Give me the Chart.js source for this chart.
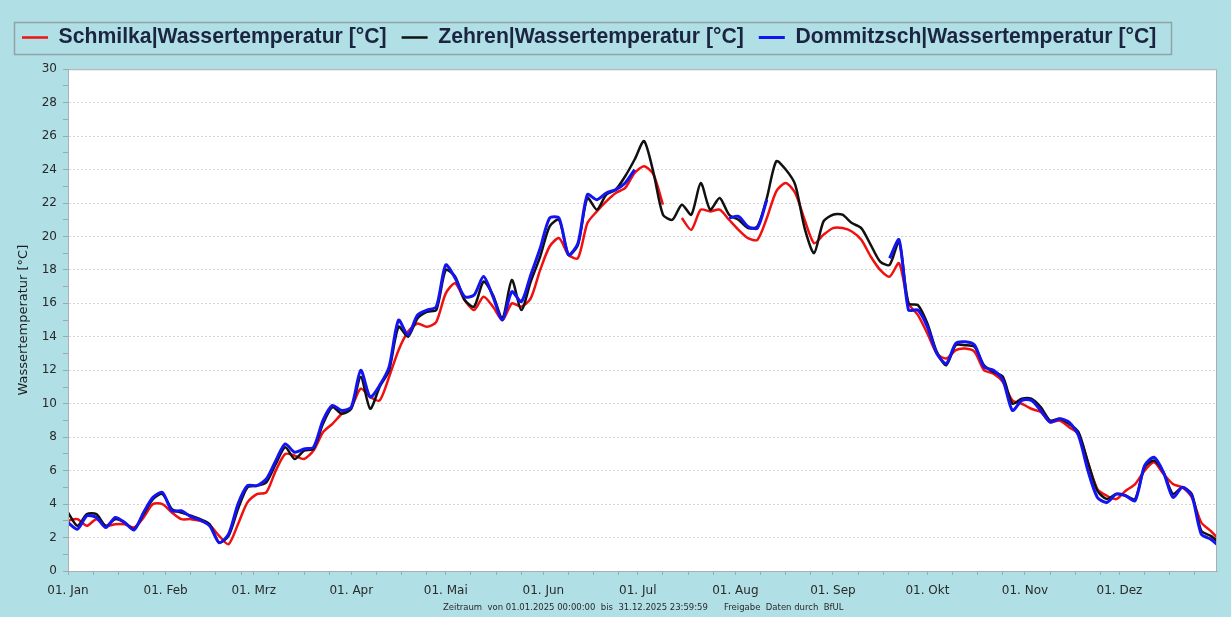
<!DOCTYPE html>
<html lang="de">
<head>
<meta charset="utf-8">
<title>Wassertemperatur 2025</title>
<script src="https://cdn.jsdelivr.net/npm/chart.js@4.4.1/dist/chart.umd.min.js"></script>
<style>
  html, body { margin: 0; padding: 0; background: #b0dfe5; }
  canvas { display: block; }
</style>
</head>
<body>
<canvas id="tempChart" width="1231" height="617"></canvas>
<script>
// day of year (0 = 01.01.2025)
const days = [
  0, 3, 6, 9, 12, 15, 18, 21, 24, 27,
  30, 33, 36, 39, 42, 45, 48, 51, 54, 57,
  60, 63, 66, 69, 72, 75, 78, 81, 84, 87,
  90, 93, 96, 99, 102, 105, 108, 111, 114, 117,
  120, 123, 126, 129, 132, 135, 138, 141, 144, 147,
  150, 153, 156, 159, 162, 165, 168, 171, 174, 177,
  180, 183, 186, 189, 192, 195, 198, 201, 204, 207,
  210, 213, 216, 219, 222, 225, 228, 231, 234, 237,
  240, 243, 246, 249, 252, 255, 258, 261, 264, 267,
  270, 273, 276, 279, 282, 285, 288, 291, 294, 297,
  300, 303, 306, 309, 312, 315, 318, 321, 324, 327,
  330, 333, 336, 339, 342, 345, 348, 351, 354, 357,
  360, 363, 365
];

const schmilka = [
  3.0, 3.1, 2.7, 3.1, 2.7, 2.8, 2.8, 2.6, 3.2, 4.0,
  4.0, 3.5, 3.1, 3.1, 3.0, 2.75, 2.1, 1.6, 2.8, 4.1,
  4.6, 4.7, 6.0, 7.0, 6.9, 6.7, 7.2, 8.3, 8.8, 9.4,
  9.8, 10.9, 10.4, 10.2, 11.6, 13.2, 14.3, 14.8, 14.6, 14.9,
  16.6, 17.2, 16.2, 15.6, 16.4, 15.8, 15.0, 16.0, 15.8, 16.3,
  18.0, 19.4, 19.9, 18.9, 18.7, 20.8, 21.5, 22.1, 22.6, 22.9,
  23.8, 24.2, 23.7, 21.9, null, 21.1, 20.4, 21.6, 21.5, 21.6,
  21.0, 20.4, 19.9, 19.8, 21.1, 22.7, 23.2, 22.6, 21.0, 19.6,
  20.1, 20.5, 20.5, 20.3, 19.8, 18.8, 18.0, 17.6, 18.4, 16.0,
  15.3, 14.2, 13.0, 12.7, 13.2, 13.3, 13.1, 12.0, 11.8, 11.3,
  10.2, 10.0, 9.7, 9.5, 8.9, 9.0, 8.6, 8.2, 6.5, 4.9,
  4.5, 4.3, 4.8, 5.2, 6.0, 6.5, 5.8, 5.2, 5.0, 4.4,
  2.9, 2.4, 2.0
];

const zehren = [
  3.5, 2.7, 3.4, 3.4, 2.7, 3.1, 2.9, 2.5, 3.4, 4.3,
  4.6, 3.7, 3.5, 3.3, 3.1, 2.8, 1.7, 2.1, 3.7, 5.0,
  5.1, 5.3, 6.4, 7.4, 6.7, 7.2, 7.3, 8.8, 9.8, 9.4,
  9.7, 11.6, 9.7, 11.0, 12.0, 14.6, 14.0, 15.1, 15.5, 15.6,
  18.0, 17.6, 16.2, 15.8, 17.3, 16.5, 15.1, 17.4, 15.6, 17.3,
  18.8, 20.6, 21.0, 18.9, 19.5, 22.3, 21.6, 22.5, 22.8, 23.6,
  24.6, 25.7, 23.8, 21.3, 21.0, 21.9, 21.3, 23.2, 21.6, 22.3,
  21.3, 21.0, 20.5, 20.6, 22.3, 24.5, 24.0, 23.1, 20.5, 19.0,
  20.9, 21.3, 21.3, 20.8, 20.5, 19.5, 18.5, 18.3, 19.7, 16.0,
  15.9, 14.8, 13.1, 12.3, 13.5, 13.5, 13.4, 12.3, 11.9, 11.6,
  10.0, 10.3, 10.3, 9.8, 9.0, 9.1, 8.8, 8.3, 6.5, 4.8,
  4.3, 4.6, 4.5, 4.3, 6.2, 6.6, 5.9, 4.6, 5.0, 4.6,
  2.4, 2.1, 1.8
];

const dommitzsch = [
  2.9, 2.5, 3.3, 3.2, 2.6, 3.2, 2.9, 2.45, 3.5, 4.4,
  4.7, 3.6, 3.6, 3.25, 3.05, 2.7, 1.7, 2.2, 4.0, 5.1,
  5.1, 5.5, 6.6, 7.6, 7.1, 7.3, 7.4, 9.0, 9.9, 9.6,
  9.8, 12.0, 10.4, 11.1, 12.2, 15.0, 14.1, 15.3, 15.6, 15.8,
  18.3, 17.5, 16.4, 16.5, 17.6, 16.4, 15.0, 16.7, 16.1, 17.7,
  19.3, 21.1, 21.1, 18.9, 19.6, 22.5, 22.2, 22.6, 22.8, 23.2,
  24.0, null, null, null, null, null, null, null, null, null,
  21.1, 21.2, 20.6, 20.5, 22.2, null, null, null, null, null,
  null, null, null, null, null, null, null, 18.7, 19.8, 15.6,
  15.6, 14.6, 13.0, 12.4, 13.6, 13.7, 13.5, 12.2, 12.0, 11.4,
  9.6, 10.2, 10.2, 9.6, 8.9, 9.1, 8.9, 8.1, 6.0, 4.4,
  4.1, 4.6, 4.5, 4.2, 6.3, 6.8, 5.9, 4.4, 5.0, 4.5,
  2.2, 1.9, 1.6
];

// x axis: first day of each month
const monthStarts = [0, 31, 59, 90, 120, 151, 181, 212, 243, 273, 304, 334];
const monthLabels = ["01. Jan", "01. Feb", "01. Mrz", "01. Apr", "01. Mai", "01. Jun",
                     "01. Jul", "01. Aug", "01. Sep", "01. Okt", "01. Nov", "01. Dez"];
const yTicks = [0, 2, 4, 6, 8, 10, 12, 14, 16, 18, 20, 22, 24, 26, 28, 30];

const footerLeft = "Zeitraum  von 01.01.2025 00:00:00  bis  31.12.2025 23:59:59";
const footerRight = "Freigabe  Daten durch  BfUL";

function toPoints(values) {
  return days.map((d, i) => ({ x: d, y: values[i] }));
}

// minor x ticks roughly every 8 days inside each month
const xTickValues = [];
monthStarts.forEach(m => { xTickValues.push(m, m + 8, m + 16, m + 24); });

const textColor = "#1b2440";

// backgrounds, plot frame, legend frame, footer line
const framePlugin = {
  id: "frames",
  beforeUpdate(chart) {
    // leave a little room between legend and plot
    const lg = chart.legend;
    if (lg && !lg._extraSpace) {
      const fit = lg.fit;
      lg.fit = function () { fit.call(this); this.height += 11; };
      lg._extraSpace = true;
    }
  },
  beforeDraw(chart) {
    const { ctx, chartArea: a } = chart;
    ctx.save();
    ctx.fillStyle = "#b0dfe5";
    ctx.fillRect(0, 0, chart.width, chart.height);
    ctx.fillStyle = "#ffffff";
    ctx.fillRect(a.left, a.top, a.right - a.left, a.bottom - a.top);
    ctx.restore();
  },
  afterDraw(chart) {
    const { ctx, chartArea: a } = chart;
    ctx.save();
    ctx.strokeStyle = "#a8b0b2";
    ctx.lineWidth = 1;
    ctx.strokeRect(a.left + 0.5, a.top + 0.5, a.right - a.left - 1, a.bottom - a.top);
    const boxes = chart.legend.legendHitBoxes;
    if (boxes && boxes.length) {
      const l = Math.min(...boxes.map(b => b.left)) - 8;
      const r = Math.max(...boxes.map(b => b.left + b.width)) + 15;
      const t = Math.min(...boxes.map(b => b.top)) - 5;
      const btm = Math.max(...boxes.map(b => b.top + b.height)) + 6;
      ctx.strokeStyle = "#8fa4a9";
      ctx.lineWidth = 1.5;
      ctx.strokeRect(Math.round(l) + 0.5, Math.round(t) + 0.5, Math.round(r - l), Math.round(btm - t));
    }
    ctx.fillStyle = "#2a2a2a";
    ctx.font = "8.5px 'DejaVu Sans', sans-serif";
    ctx.textBaseline = "middle";
    ctx.textAlign = "left";
    ctx.fillText(footerLeft, 443, 608);
    ctx.fillText(footerRight, 724, 608);
    ctx.restore();
  }
};

const config = {
  type: "line",
  data: {
    datasets: [
      {
        label: "Schmilka|Wassertemperatur [°C]",
        data: toPoints(schmilka),
        borderColor: "#f01010",
        backgroundColor: "#f01010",
        borderWidth: 2.5,
        order: 3
      },
      {
        label: "Zehren|Wassertemperatur [°C]",
        data: toPoints(zehren),
        borderColor: "#111111",
        backgroundColor: "#111111",
        borderWidth: 2.5,
        order: 2
      },
      {
        label: "Dommitzsch|Wassertemperatur [°C]",
        data: toPoints(dommitzsch),
        borderColor: "#1414f0",
        backgroundColor: "#1414f0",
        borderWidth: 3,
        order: 1
      }
    ]
  },
  options: {
    responsive: false,
    animation: false,
    devicePixelRatio: 1,
    spanGaps: false,
    elements: {
      point: { radius: 0, hoverRadius: 0 },
      line: { tension: 0.25 }
    },
    layout: { padding: { left: 7, right: 14, top: 12, bottom: 18 } },
    plugins: {
      tooltip: { enabled: false },
      legend: {
        position: "top",
        align: "start",
        labels: {
          usePointStyle: true,
          pointStyle: "line",
          pointStyleWidth: 26,
          padding: 15,
          color: textColor,
          sort: (a, b) => a.datasetIndex - b.datasetIndex,
          font: { family: "'Liberation Sans', Arial, sans-serif", size: 21.2, weight: "bold" }
        }
      }
    },
    scales: {
      x: {
        type: "linear",
        min: 0,
        max: 365,
        afterBuildTicks: scale => {
          scale.ticks = xTickValues.map(v => ({ value: v }));
        },
        afterFit: scale => { scale.height = 28; },
        grid: {
          drawOnChartArea: false,
          drawTicks: true,
          tickLength: 4,
          tickColor: "#a0a8aa"
        },
        border: { color: "#a8b0b2" },
        ticks: {
          autoSkip: false,
          maxRotation: 0,
          padding: 9,
          color: "#2a2a2a",
          font: { family: "'DejaVu Sans', sans-serif", size: 12 },
          callback: value => {
            const i = monthStarts.indexOf(value);
            return i >= 0 ? monthLabels[i] : "";
          }
        }
      },
      y: {
        min: 0,
        max: 30,
        afterBuildTicks: scale => {
          const t = [];
          for (let v = 0; v <= 30; v++) t.push({ value: v });
          scale.ticks = t;
        },
        afterFit: scale => { scale.width = 61; },
        grid: {
          color: ctx => (yTicks.includes(ctx.tick.value) ? "#d6d6d6" : "rgba(0,0,0,0)"),
          tickColor: "#a0a8aa",
          tickLength: 5
        },
        border: { color: "#a8b0b2", dash: [2, 2] },
        title: {
          display: true,
          text: "Wassertemperatur [°C]",
          color: "#1e1e1e",
          padding: { top: 9, bottom: 4 },
          font: { family: "'DejaVu Sans', sans-serif", size: 13 }
        },
        ticks: {
          autoSkip: false,
          padding: 6,
          color: "#2a2a2a",
          font: { family: "'DejaVu Sans', sans-serif", size: 12 },
          callback: value => (yTicks.includes(value) ? String(value) : "")
        }
      }
    }
  },
  plugins: [framePlugin]
};

new Chart(document.getElementById("tempChart"), config);
</script>
</body>
</html>
